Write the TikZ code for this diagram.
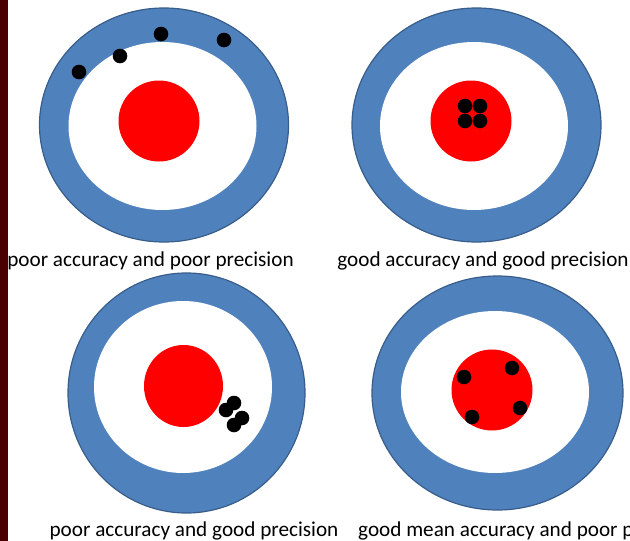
\documentclass[tikz,border=0pt]{standalone}
\usepackage{fontspec}
\setmainfont{Carlito}
\usepackage{tikz}
\definecolor{RingBlue}{HTML}{4F81BD}
\definecolor{RingEdge}{HTML}{385D8A}
\definecolor{BullRed}{HTML}{FF0000}
\definecolor{SideBar}{HTML}{4A0000}

\begin{document}
\begin{tikzpicture}[
  x=1pt, y=-1pt,
  ring/.style={fill=RingBlue, draw=RingEdge, line width=1.2pt},
  hole/.style={fill=white},
  bull/.style={fill=BullRed},
  shot/.style={fill=black},
  caption/.style={font=\fontsize{21.2}{25}\selectfont, anchor=base, inner sep=0pt}
]
\clip (0,0) rectangle (630,541);
\fill[white] (0,0) rectangle (630,541);

% poor accuracy, poor precision
\coordinate (t1) at (164,125);
\draw[ring] (t1) ellipse [x radius=124.5, y radius=117];
\fill[hole] (162.5,126) ellipse [x radius=94, y radius=84];
\fill[bull] (159,121) circle (40.5);
\foreach \p in {(79,72),(120,56),(161,34),(224,40)}
  \fill[shot] \p circle (7.3);
\node[caption] (c1) at (150.5,266) {poor accuracy and poor precision};

% good accuracy, good precision
\coordinate (t2) at (476.5,125);
\draw[ring] (t2) ellipse [x radius=124.5, y radius=117];
\fill[hole] (474,126) ellipse [x radius=94, y radius=84];
\fill[bull] (471,121) circle (40.5);
\foreach \p in {(465,106),(480,106),(465,121),(480,121)}
  \fill[shot] \p circle (7.3);
\node[caption] (c2) at (483,266) {good accuracy and good precision};

% poor accuracy, good precision
\coordinate (t3) at (186.5,393);
\draw[ring] (t3) ellipse [x radius=118.5, y radius=120];
\fill[hole] (183,387) ellipse [x radius=89, y radius=86];
\fill[bull] (183.5,386) ellipse [x radius=39.5, y radius=41];
\foreach \p in {(226,410),(234,403),(234,425),(242,418)}
  \fill[shot] \p circle (7.3);
\node[caption] (c3) at (194,536) {poor accuracy and good precision};

% good mean accuracy, poor precision
\coordinate (t4) at (497.5,393);
\draw[ring] (t4) ellipse [x radius=125.5, y radius=117];
\fill[hole] (495,392) ellipse [x radius=94, y radius=81];
\fill[bull] (492,390) circle (40.5);
\foreach \p in {(464,377),(512,368),(520,408),(472,417)}
  \fill[shot] \p circle (7.3);
\node[caption, anchor=base west] (c4) at (358,536) {good mean accuracy and poor precision};

\fill[SideBar] (0,0) rectangle (8,541);
\end{tikzpicture}
\end{document}
